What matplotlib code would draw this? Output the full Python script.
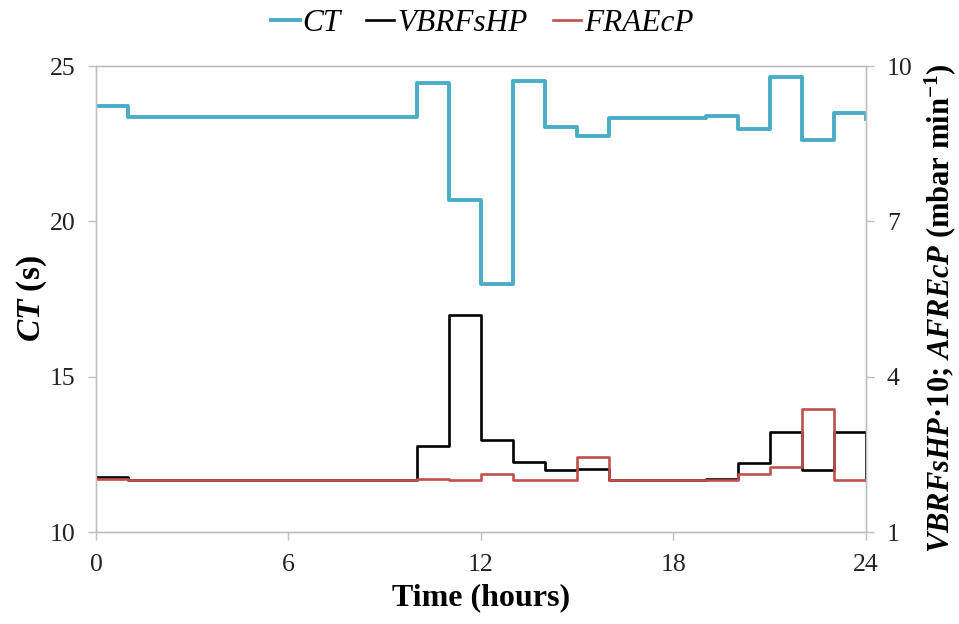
import matplotlib.pyplot as plt

plt.rcParams['font.family'] = 'Liberation Serif'
plt.rcParams['mathtext.fontset'] = 'custom'
plt.rcParams['mathtext.rm'] = 'Liberation Serif:bold'
plt.rcParams['mathtext.it'] = 'Liberation Serif:bold:italic'
plt.rcParams['mathtext.bf'] = 'Liberation Serif:bold'

# hourly values, step held from hour i to i+1 (last point closes the step at 24 h)
hours = list(range(0, 25))
ct = [23.7, 23.35, 23.35, 23.35, 23.35, 23.35, 23.35, 23.35, 23.35, 23.35,
      24.45, 20.68, 17.98, 24.52, 23.05, 22.76, 23.33, 23.33, 23.33, 23.4,
      22.97, 24.66, 22.62, 23.5, 23.3]
vbrfshp = [2.07, 2.0, 2.0, 2.0, 2.0, 2.0, 2.0, 2.0, 2.0, 2.0,
           2.67, 5.2, 2.78, 2.36, 2.2, 2.22, 2.0, 2.0, 2.0, 2.03,
           2.34, 2.93, 2.2, 2.94, 2.0]
fraecp = [2.02, 2.0, 2.0, 2.0, 2.0, 2.0, 2.0, 2.0, 2.0, 2.0,
          2.02, 2.0, 2.12, 2.0, 2.0, 2.45, 2.0, 2.0, 2.0, 2.0,
          2.13, 2.25, 3.37, 2.0, 2.0]

fig = plt.figure(figsize=(9.59, 6.24), dpi=100)
ax = fig.add_axes([0.1001, 0.1474, 0.8029, 0.7468])
ax2 = ax.twinx()

l1, = ax.plot(hours, ct, drawstyle='steps-post', color='#4bacc6', lw=2.8, label='CT')
l2, = ax2.plot(hours, vbrfshp, drawstyle='steps-post', color='black', lw=1.9, label='VBRFsHP')
l3, = ax2.plot(hours, fraecp, drawstyle='steps-post', color='#c0504d', lw=1.9, label='FRAEcP')

ax.set_xlim(0, 24)
ax.set_ylim(10, 25)
ax2.set_ylim(1, 10)
ax.set_xticks([0, 6, 12, 18, 24])
ax.set_yticks([10, 15, 20, 25])
ax2.set_yticks([1, 4, 7, 10])

for a in (ax, ax2):
    for s in a.spines.values():
        s.set_color('#bfbfbf')
        s.set_linewidth(1.0)
    a.tick_params(colors='#bfbfbf', labelcolor='#222222', labelsize=18.5, length=6, width=1.0, pad=9)
ax.tick_params(axis='x', pad=10)

ax.set_xlabel('Time (hours)', fontsize=23, fontweight='bold', labelpad=5)
ax.set_ylabel(r'$\mathit{CT}$ (s)', fontsize=24, fontweight='bold', labelpad=0)
ax2.set_ylabel(r'$\mathit{VBRFsHP}$·10; $\mathit{AFREcP}$ (mbar min$^{-1}$)',
               fontsize=22, fontweight='bold')
ax2.yaxis.set_label_coords(1.073, 0.48)

fig.legend(handles=[l1, l2, l3], loc='upper center', bbox_to_anchor=(0.503, 1.03), ncol=3,
           frameon=False, prop={'family': 'Liberation Serif', 'style': 'italic', 'size': 22.5},
           handlelength=0.9, handletextpad=0.1, columnspacing=0.8)

fig.savefig('out.png', dpi=100)
